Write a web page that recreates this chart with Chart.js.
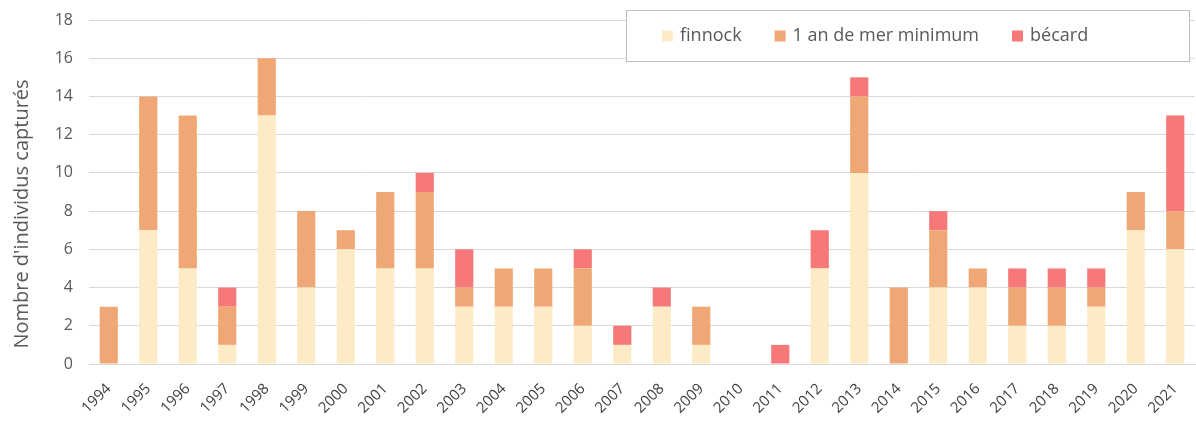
<!DOCTYPE html>
<html lang="fr">
<head>
<meta charset="utf-8">
<script src="https://cdn.jsdelivr.net/npm/chart.js@4/dist/chart.umd.min.js"></script>
<style>
    html, body { margin: 0; padding: 0; background: #fff; }
    #wrap { width: 1196px; height: 421px; position: relative; }
</style>
</head>
<body>
<div id="wrap"><canvas id="captureChart" width="1196" height="421"></canvas></div>
<script>
const YEARS = ["1994", "1995", "1996", "1997", "1998", "1999", "2000", "2001", "2002", "2003",
    "2004", "2005", "2006", "2007", "2008", "2009", "2010", "2011", "2012", "2013",
    "2014", "2015", "2016", "2017", "2018", "2019", "2020", "2021"];

const FINNOCK = [0, 7, 5, 1, 13, 4, 6, 5, 5, 3, 3, 3, 2, 1, 3, 1, 0, 0, 5, 10, 0, 4, 4, 2, 2, 3, 7, 6];
const UN_AN_MER = [3, 7, 8, 2, 3, 4, 1, 4, 4, 1, 2, 2, 3, 0, 0, 2, 0, 0, 0, 4, 4, 3, 1, 2, 2, 1, 2, 2];
const BECARD = [0, 0, 0, 1, 0, 0, 0, 0, 1, 2, 0, 0, 1, 1, 1, 0, 0, 1, 2, 1, 0, 1, 0, 1, 1, 1, 0, 5];

const Y_TICKS = [0, 2, 4, 6, 8, 10, 12, 14, 16, 18];
const Y_TITLE = "Nombre d'individus capturés";

const FONT = "'Open Sans', 'DejaVu Sans', sans-serif";
const TEXT_COLOR = "#595959";

// legend drawn as a boxed overlay at the top right, like the original
const boxedLegend = {
    id: "boxedLegend",
    afterDraw(chart) {

        const ctx = chart.ctx;
        const box = { left: 626, top: 10, right: 1190, bottom: 62 };
        const midY = (box.top + box.bottom) / 2;

        ctx.save();
        ctx.fillStyle = "#ffffff";
        ctx.fillRect(box.left, box.top, box.right - box.left, box.bottom - box.top);
        ctx.strokeStyle = "#bfbfbf";
        ctx.lineWidth = 1;
        ctx.strokeRect(box.left + 0.5, box.top + 0.5, box.right - box.left - 1, box.bottom - box.top - 1);

        ctx.font = `18px ${FONT}`;
        ctx.textBaseline = "middle";
        ctx.textAlign = "left";

        const swatch = 11;
        const swatchGap = 7;
        const itemGap = 33;

        let x = 662;

        chart.data.datasets.forEach((dataset) => {

            ctx.fillStyle = dataset.backgroundColor;
            ctx.fillRect(x, midY - swatch / 2, swatch, swatch);
            x += swatch + swatchGap;
            ctx.fillStyle = TEXT_COLOR;
            ctx.fillText(dataset.label, x, midY);
            x += ctx.measureText(dataset.label).width + itemGap;
        });

        ctx.restore();
    }
};

// axis title placed by hand so it sits centred on the whole height
const yAxisTitle = {
    id: "yAxisTitle",
    afterDraw(chart) {

        const ctx = chart.ctx;

        ctx.save();
        ctx.translate(22, 214);
        ctx.rotate(-Math.PI / 2);
        ctx.font = `20px ${FONT}`;
        ctx.fillStyle = TEXT_COLOR;
        ctx.textAlign = "center";
        ctx.textBaseline = "middle";
        ctx.fillText(Y_TITLE, 0, 0);
        ctx.restore();
    }
};

function buildDataset(label, data, color) {

    return {
        label,
        data,
        backgroundColor: color,
        borderWidth: 0,
        barPercentage: 0.46,
        categoryPercentage: 1
    };
}

new Chart(document.getElementById("captureChart").getContext("2d"), {
    type: "bar",
    data: {
        labels: YEARS,
        datasets: [
            buildDataset("finnock", FINNOCK, "#fdebc6"),
            buildDataset("1 an de mer minimum", UN_AN_MER, "#f0a776"),
            buildDataset("bécard", BECARD, "#f77878")
        ]
    },
    options: {
        responsive: false,
        animation: false,
        layout: {
            padding: { top: 20, right: 0, left: 0, bottom: 0 }
        },
        plugins: {
            legend: { display: false },
            tooltip: { enabled: false }
        },
        scales: {
            x: {
                stacked: true,
                grid: { display: false },
                border: { color: "#d9d9d9" },
                ticks: {
                    color: "#404040",
                    font: { family: FONT, size: 15 },
                    minRotation: 45,
                    maxRotation: 45,
                    autoSkip: false,
                    padding: 8
                },
                afterFit: (scale) => { scale.height = 57; }
            },
            y: {
                stacked: true,
                min: 0,
                max: 18,
                afterBuildTicks: (scale) => {
                    scale.ticks = Y_TICKS.map((value) => ({ value }));
                },
                grid: { color: "#d9d9d9", drawTicks: false },
                border: { display: false },
                ticks: {
                    color: TEXT_COLOR,
                    font: { family: FONT, size: 16 },
                    padding: 16
                },
                afterFit: (scale) => {
                    scale.width = 89;
                    scale.paddingTop = 0;
                    scale.paddingBottom = 0;
                }
            }
        }
    },
    plugins: [boxedLegend, yAxisTitle]
});
</script>
</body>
</html>
